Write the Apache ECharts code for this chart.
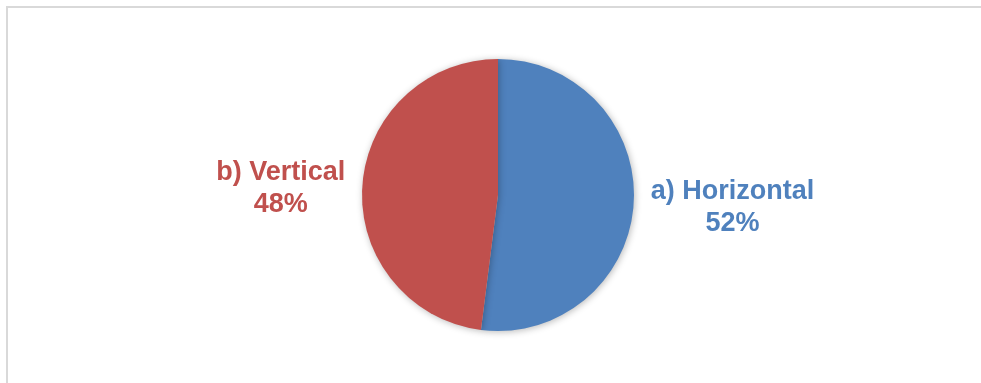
<!DOCTYPE html>
<html>
<head>
<meta charset="utf-8">
<style>
  html, body { margin: 0; padding: 0; background: #ffffff; }
  #chart { width: 981px; height: 383px; }
</style>
<script src="https://cdn.jsdelivr.net/npm/echarts@6/dist/echarts.min.js"></script>
</head>
<body>
<div id="chart"></div>
<script>
// Share of orientations
const categories = ['a) Horizontal', 'b) Vertical'];
const shares = [52, 48];
const sliceColors = ['#4F81BD', '#C0504D'];

const chart = echarts.init(document.getElementById('chart'), null, { renderer: 'canvas' });

const pieData = categories.map((name, i) => ({
  name: name,
  value: shares[i],
  itemStyle: { color: sliceColors[i] },
  label: { color: sliceColors[i] }
}));

chart.setOption({
  backgroundColor: '#ffffff',
  animation: false,
  graphic: [{
    type: 'polyline',
    silent: true,
    shape: { points: [[7, 383], [7, 7], [981, 7]] },
    style: { stroke: '#d9d9d9', lineWidth: 2, fill: null }
  }],
  series: [{
    type: 'pie',
    center: [498, 195],
    radius: 136,
    startAngle: 90,
    clockwise: true,
    data: pieData,
    itemStyle: {
      shadowBlur: 7,
      shadowColor: 'rgba(0,0,0,0.28)',
      shadowOffsetX: 1,
      shadowOffsetY: 1
    },
    label: {
      show: true,
      position: 'outside',
      formatter: p => p.name + '\n' + Math.round(p.percent) + '%',
      fontFamily: 'Liberation Sans, Arial, sans-serif',
      fontWeight: 'bold',
      fontSize: 27,
      lineHeight: 32
    },
    labelLine: { show: false, length: 11, length2: 1 },
    labelLayout: function (params) {
      const r = params.labelRect;
      // centre the two lines of each label on the label box
      return {
        x: r.x + r.width / 2,
        y: r.y + r.height / 2 + 3,
        align: 'center',
        verticalAlign: 'middle'
      };
    },
    emphasis: { disabled: true }
  }]
});
</script>
</body>
</html>
